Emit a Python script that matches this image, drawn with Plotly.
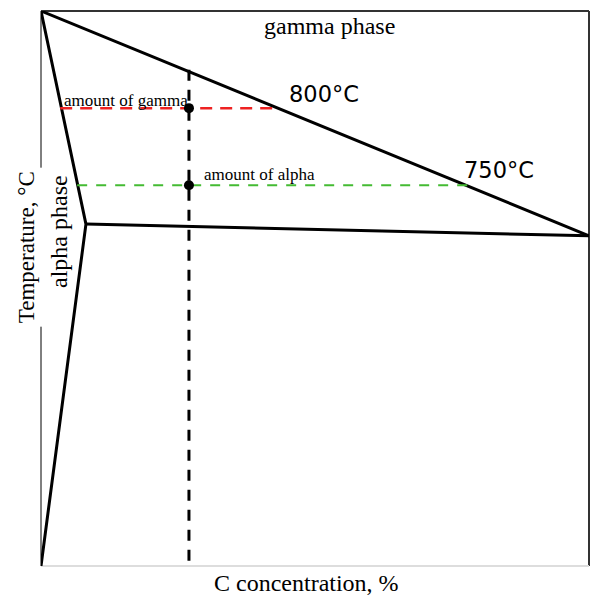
import plotly.graph_objects as go

# Phase boundary vertices (C concentration %, temperature scale 0-100)
gamma_x = [0, 100]
gamma_y = [100, 59.5]
alpha_x = [0, 8.2, 0]
alpha_y = [100, 61.6, 0]
eutectoid_x = [8.2, 100]
eutectoid_y = [61.6, 59.5]
comp_x = [27.0, 27.0]
comp_y = [89.4, 0]
red_x = [3.5, 43.2]
red_y = [82.5, 82.5]
green_x = [6.6, 78.3]
green_y = [68.6, 68.6]
dot_x = [27.0, 27.0]
dot_y = [82.5, 68.6]

fig = go.Figure()
solid = dict(color="black", width=3)
fig.add_trace(go.Scatter(x=gamma_x, y=gamma_y, mode="lines", line=solid))
fig.add_trace(go.Scatter(x=alpha_x, y=alpha_y, mode="lines", line=solid))
fig.add_trace(go.Scatter(x=eutectoid_x, y=eutectoid_y, mode="lines", line=solid))
fig.add_trace(go.Scatter(x=comp_x, y=comp_y, mode="lines",
                         line=dict(color="black", width=3, dash="11px,9px")))
fig.add_trace(go.Scatter(x=red_x, y=red_y, mode="lines",
                         line=dict(color="#ee2222", width=2.5, dash="12px,8px")))
fig.add_trace(go.Scatter(x=green_x, y=green_y, mode="lines",
                         line=dict(color="#44bb33", width=2, dash="10px,9px")))
fig.add_trace(go.Scatter(x=dot_x, y=dot_y, mode="markers",
                         marker=dict(color="black", size=10)))

serif = "Liberation Serif"
sans = "DejaVu Sans"
ann = [
    dict(x=52.7, y=97.3, text="gamma phase", font=dict(family=serif, size=24, color="black")),
    dict(x=44.8, y=85.0, text="800°C", xanchor="left", font=dict(family=sans, size=22.5, color="black")),
    dict(x=76.8, y=71.4, text="750°C", xanchor="left", font=dict(family=sans, size=22.5, color="black")),
    dict(x=3.8, y=83.9, text="amount of gamma", xanchor="left", font=dict(family=serif, size=17, color="black")),
    dict(x=29.3, y=70.6, text="amount of alpha", xanchor="left", font=dict(family=serif, size=17, color="black")),
    dict(x=3.3, y=60.2, text="alpha phase", textangle=-90, font=dict(family=serif, size=24, color="black")),
]
for a in ann:
    fig.add_annotation(showarrow=False, xref="x", yref="y", **a)

fig.add_annotation(x=-0.025, y=0.575, xref="paper", yref="paper", text="Temperature, °C",
                   textangle=-90, showarrow=False, bgcolor="white", borderpad=3,
                   xanchor="center", yanchor="middle",
                   font=dict(family=serif, size=23, color="black"))
fig.add_annotation(x=0.484, y=-0.031, xref="paper", yref="paper", text="C concentration, %",
                   showarrow=False, xanchor="center", yanchor="middle",
                   font=dict(family=serif, size=24, color="black"))

fig.update_layout(
    width=592, height=600,
    margin=dict(l=41, r=3, t=11, b=34),
    paper_bgcolor="white", plot_bgcolor="white",
    showlegend=False,
    xaxis=dict(range=[0, 100], visible=False, fixedrange=True),
    yaxis=dict(range=[0, 100], visible=False, fixedrange=True),
    shapes=[
        dict(type="line", xref="paper", yref="paper", x0=0, x1=1, y0=1, y1=1, line=dict(color="#333", width=2), layer="below"),
        dict(type="line", xref="paper", yref="paper", x0=1, x1=1, y0=0, y1=1, line=dict(color="#333", width=2), layer="below"),
        dict(type="line", xref="paper", yref="paper", x0=0, x1=1, y0=0, y1=0, line=dict(color="#dddddd", width=2), layer="below"),
        dict(type="line", xref="paper", yref="paper", x0=0, x1=0, y0=0, y1=1, line=dict(color="black", width=1), layer="below"),
    ],
)
fig.write_html("out.html")
